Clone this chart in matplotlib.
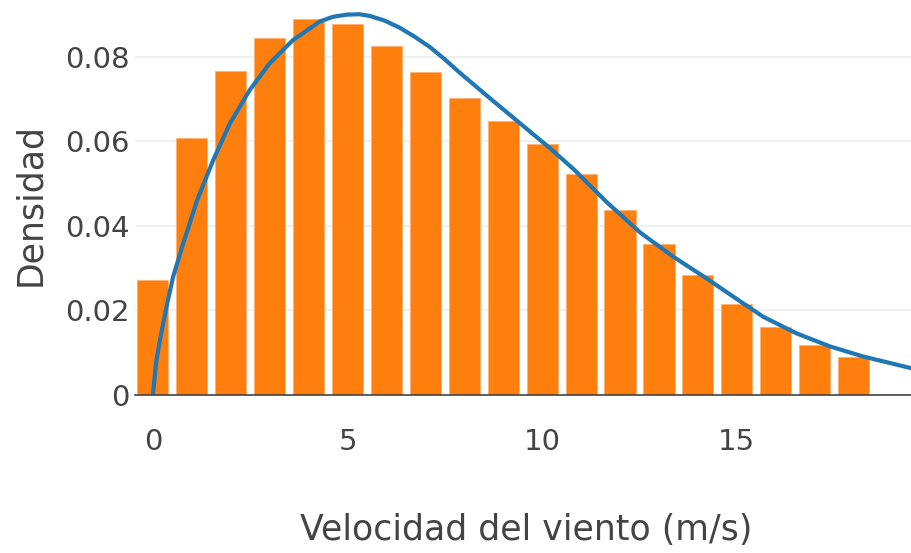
import matplotlib
matplotlib.use("Agg")
import matplotlib.pyplot as plt

# Histogram bins (wind speed, m/s) and density values
bin_centers = [0, 1, 2, 3, 4, 5, 6, 7, 8, 9, 10, 11, 12, 13, 14, 15, 16, 17, 18]
densities = [0.0272, 0.0608, 0.0767, 0.0845, 0.0890, 0.0878, 0.0826, 0.0764,
             0.0703, 0.0649, 0.0594, 0.0523, 0.0438, 0.0357, 0.0284, 0.0215,
             0.0161, 0.0118, 0.0090]

# Fitted distribution curve
curve_x = [0, 0.08, 0.18, 0.35, 0.52, 0.78, 1.14, 1.55, 1.98, 2.49, 3.0, 3.6,
           4.29, 4.63, 4.98, 5.3, 5.57, 5.95, 6.34, 6.72, 7.12, 7.5, 7.89,
           8.66, 9.43, 10.2, 10.8, 11.65, 12.51, 13.37, 14.22, 15.08, 15.68,
           16.53, 17.39, 18.25, 19.5]
curve_y = [0, 0.0075, 0.013, 0.0209, 0.028, 0.0359, 0.0462, 0.0556, 0.0643,
           0.0722, 0.0785, 0.0840, 0.0884, 0.0895, 0.0900, 0.0901, 0.0897,
           0.0886, 0.0869, 0.0848, 0.0823, 0.0794, 0.0762, 0.0702, 0.0643,
           0.0584, 0.0535, 0.0457, 0.0385, 0.0327, 0.0276, 0.0222, 0.0185,
           0.0146, 0.0115, 0.0091, 0.0063]

x_ticks = [0, 5, 10, 15]
y_ticks = [0, 0.02, 0.04, 0.06, 0.08]
y_tick_labels = ["0", "0.02", "0.04", "0.06", "0.08"]

plt.rcParams['font.family'] = ['DejaVu Sans']
text_color = "#444444"

fig = plt.figure(figsize=(9.12, 5.53), dpi=100)
W, H = 912, 553
left, right, bottom, top = 135, 912, 395, 10
ax = fig.add_axes([left / W, 1 - bottom / H, (right - left) / W, (bottom - top) / H])

ax.bar(bin_centers, densities, width=0.8, color="#ff7f0e",
       edgecolor="#ffb070", linewidth=0.6, zorder=2)
ax.plot(curve_x, curve_y, color="#1f77b4", linewidth=3.0, zorder=3,
        solid_joinstyle="round", solid_capstyle="round")

ax.set_xlim(-0.46, 19.5)
ax.set_ylim(0, 0.0911)

ax.set_xticks(x_ticks)
ax.set_xticklabels([str(t) for t in x_ticks])
ax.set_yticks(y_ticks)
ax.set_yticklabels(y_tick_labels)

ax.tick_params(axis='both', length=0, labelsize=21, colors=text_color)
ax.tick_params(axis='x', pad=24)
ax.tick_params(axis='y', pad=4)

ax.grid(axis='y', color="#eeeeee", linewidth=1.2, zorder=0)
ax.set_axisbelow(True)

for s in ['top', 'right', 'left']:
    ax.spines[s].set_visible(False)
ax.spines['bottom'].set_color(text_color)
ax.spines['bottom'].set_linewidth(1.2)
ax.spines['bottom'].set_zorder(4)

fig.text(526 / W, 1 - 530 / H, "Velocidad del viento (m/s)", ha='center', va='center',
         fontsize=25, color=text_color)
fig.text(30 / W, 1 - 205 / H, "Densidad", ha='center', va='center', rotation=90,
         fontsize=25, color=text_color)

fig.savefig("out.png", dpi=100, facecolor="white")
